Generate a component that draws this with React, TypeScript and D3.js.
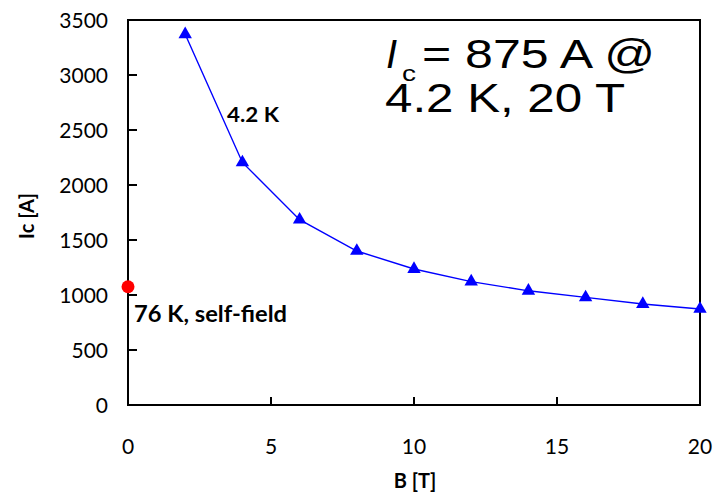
import React, { useRef, useEffect } from "react";
import * as d3 from "d3";

// B field (T) and critical current (A) at 4.2 K
const fieldT = [2, 4, 6, 8, 10, 12, 14, 16, 18, 20];
const currentA = [3370, 2205, 1685, 1400, 1236, 1122, 1038, 978, 918, 873];
// 76 K self-field point
const selfField = [{ b: 0, ic: 1075 }];
const xTicks = [0, 5, 10, 15, 20];
const yTicks = [0, 500, 1000, 1500, 2000, 2500, 3000, 3500];

export default function App() {
  const ref = useRef<SVGSVGElement | null>(null);

  useEffect(() => {
    if (!ref.current) return;
    const svg = d3.select(ref.current);
    svg.selectAll("*").remove();

    const W = 714;
    const H = 496;
    const m = { top: 20, right: 14, bottom: 91, left: 128 };

    const x = d3.scaleLinear().domain([0, 20]).range([m.left, W - m.right]);
    const y = d3.scaleLinear().domain([0, 3500]).range([H - m.bottom, m.top]);

    const g = svg.append("g");

    // frame
    g.append("rect")
      .attr("x", x(0))
      .attr("y", y(3500))
      .attr("width", x(20) - x(0))
      .attr("height", y(0) - y(3500))
      .attr("fill", "none")
      .attr("stroke", "#000")
      .attr("stroke-width", 2);

    // y ticks (inward)
    g.selectAll("line.yt")
      .data(yTicks)
      .enter()
      .append("line")
      .attr("x1", x(0))
      .attr("x2", x(0) + 9)
      .attr("y1", (d) => y(d))
      .attr("y2", (d) => y(d))
      .attr("stroke", "#000")
      .attr("stroke-width", 2);

    g.selectAll("text.yl")
      .data(yTicks)
      .enter()
      .append("text")
      .attr("x", 108)
      .attr("y", (d) => y(d))
      .attr("dy", "0.36em")
      .attr("text-anchor", "end")
      .attr("font-family", "Lato, sans-serif")
      .attr("font-size", 21)
      .attr("fill", "#000")
      .text((d) => d);

    // x ticks (inward)
    g.selectAll("line.xt")
      .data(xTicks)
      .enter()
      .append("line")
      .attr("x1", (d) => x(d))
      .attr("x2", (d) => x(d))
      .attr("y1", y(0))
      .attr("y2", y(0) - 8)
      .attr("stroke", "#000")
      .attr("stroke-width", 2);

    g.selectAll("text.xl")
      .data(xTicks)
      .enter()
      .append("text")
      .attr("x", (d) => x(d))
      .attr("y", 454)
      .attr("text-anchor", "middle")
      .attr("font-family", "Lato, sans-serif")
      .attr("font-size", 21)
      .attr("fill", "#000")
      .text((d) => d);

    // axis titles
    g.append("text")
      .attr("transform", "translate(34,216) rotate(-90)")
      .attr("text-anchor", "middle")
      .attr("font-family", "Lato, sans-serif")
      .attr("font-weight", "bold")
      .attr("font-size", 20)
      .text("Ic [A]");

    g.append("text")
      .attr("x", 415)
      .attr("y", 488)
      .attr("text-anchor", "middle")
      .attr("font-family", "Lato, sans-serif")
      .attr("font-weight", "bold")
      .attr("font-size", 20)
      .text("B [T]");

    // 4.2 K line
    const data = fieldT.map((b, i) => ({ b, ic: currentA[i] }));
    const line = d3
      .line<{ b: number; ic: number }>()
      .x((d) => x(d.b))
      .y((d) => y(d.ic));

    g.append("path")
      .datum(data)
      .attr("d", line)
      .attr("fill", "none")
      .attr("stroke", "#0000ff")
      .attr("stroke-width", 1.4);

    const tri = d3.symbol().type(d3.symbolTriangle).size(78);
    g.selectAll("path.tri")
      .data(data)
      .enter()
      .append("path")
      .attr("d", tri)
      .attr("transform", (d) => `translate(${x(d.b)},${y(d.ic)})`)
      .attr("fill", "#0000ff");

    g.selectAll("circle.sf")
      .data(selfField)
      .enter()
      .append("circle")
      .attr("cx", (d) => x(d.b))
      .attr("cy", (d) => y(d.ic))
      .attr("r", 6.5)
      .attr("fill", "#ff0000");

    // annotations
    g.append("text")
      .attr("x", 227)
      .attr("y", 122)
      .attr("font-family", "Lato, sans-serif")
      .attr("font-weight", "bold")
      .attr("font-size", 20)
      .attr("textLength", 52)
      .attr("lengthAdjust", "spacingAndGlyphs")
      .text("4.2 K");

    g.append("text")
      .attr("x", 134)
      .attr("y", 322)
      .attr("font-family", "Lato, sans-serif")
      .attr("font-weight", "bold")
      .attr("font-size", 22)
      .attr("textLength", 153)
      .attr("lengthAdjust", "spacingAndGlyphs")
      .text("76 K, self-field");

    const big = g
      .append("g")
      .attr("font-family", "'Liberation Sans', Arial, sans-serif")
      .attr("fill", "#000");

    big.append("text")
      .attr("x", 386)
      .attr("y", 68)
      .attr("font-size", 40)
      .attr("font-style", "italic")
      .text("I");
    big.append("text")
      .attr("x", 402)
      .attr("y", 81)
      .attr("font-size", 22)
      .attr("textLength", 14)
      .attr("lengthAdjust", "spacingAndGlyphs")
      .text("c");
    big.append("text")
      .attr("x", 422)
      .attr("y", 68)
      .attr("font-size", 40)
      .attr("textLength", 233)
      .attr("lengthAdjust", "spacingAndGlyphs")
      .text("= 875 A @");
    big.append("text")
      .attr("x", 385)
      .attr("y", 112)
      .attr("font-size", 40)
      .attr("textLength", 240)
      .attr("lengthAdjust", "spacingAndGlyphs")
      .text("4.2 K, 20 T");
    big.append("text")
      .attr("x", 641)
      .attr("y", 42)
      .attr("font-size", 10)
      .text("-");
  }, []);

  return (
    <div style={{ position: "absolute", left: 0, top: 0 }}>
      <svg ref={ref} width={714} height={496} style={{ display: "block", background: "#fff" }} />
    </div>
  );
}
